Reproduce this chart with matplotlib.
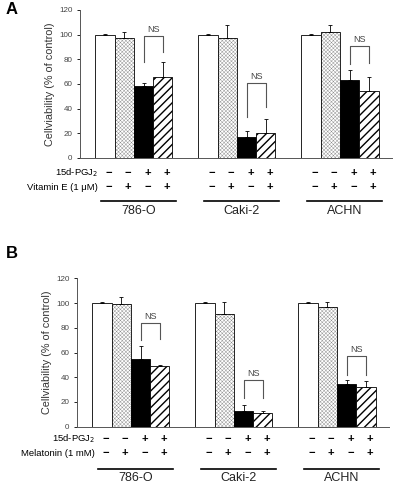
import matplotlib
matplotlib.use("Agg")
import matplotlib.pyplot as plt
import matplotlib.transforms as mtransforms
import numpy as np

plt.rcParams['font.family'] = ['Liberation Sans', 'DejaVu Sans']

cell_lines = ["786-O", "Caki-2", "ACHN"]
treat_pgj = ["−", "−", "+", "+"]
treat_other = ["−", "+", "−", "+"]

# Panel A: Vitamin E
a_vals = {"786-O": [100, 97, 58, 66], "Caki-2": [100, 97, 17, 20], "ACHN": [100, 102, 63, 54]}
a_errs = {"786-O": [0.5, 5, 3, 12], "Caki-2": [0.5, 11, 5, 12], "ACHN": [0.5, 6, 8, 12]}
a_ns = {"786-O": (99, 78, 86), "Caki-2": (61, 33, 41), "ACHN": (91, 76, 77)}

# Panel B: Melatonin
b_vals = {"786-O": [100, 99, 55, 49], "Caki-2": [100, 91, 13, 11], "ACHN": [100, 96.5, 34.5, 32]}
b_errs = {"786-O": [0.5, 6, 10, 1], "Caki-2": [0.5, 10, 4.5, 2], "ACHN": [0.5, 4, 3.5, 5]}
b_ns = {"786-O": (84, 70, 71), "Caki-2": (38, 23, 23), "ACHN": (57, 42, 42)}

yticks = [0, 20, 40, 60, 80, 100, 120]
ylabel = "Cellviability (% of control)"

fills = ["white", "white", "black", "white"]

W, H = 398, 488
fig = plt.figure(figsize=(W / 100, H / 100), dpi=100)


def panel(left_px, right_px, y0_px, y120_px, vals, errs, ns, other_label, letter, letter_y, rows):
    ax = fig.add_axes([left_px / W, (H - y0_px) / H, (right_px - left_px) / W, (y0_px - y120_px) / H])
    axh = y0_px - y120_px
    trans = mtransforms.blended_transform_factory(ax.transData, ax.transAxes)
    for g, cl in enumerate(cell_lines):
        base = 1.3 + g * 5.35
        xs = base + np.arange(4)
        v = vals[cl]
        # plain bars
        ax.bar(xs[[0, 2]], [v[0], v[2]], width=1.0, color=[fills[0], fills[2]],
               edgecolor="black", linewidth=0.6, zorder=2)
        # fine dotted bar
        with plt.rc_context({'hatch.linewidth': 0.3}):
            ax.bar(xs[1], v[1], width=1.0, color="white", edgecolor="#8a8a8a",
                   linewidth=0, hatch="xxxxxxxxx", zorder=2)
        ax.bar(xs[1], v[1], width=1.0, fill=False, edgecolor="black", linewidth=0.6, zorder=2.1)
        # diagonal hatched bar
        with plt.rc_context({'hatch.linewidth': 1.0}):
            ax.bar(xs[3], v[3], width=1.0, color="white", edgecolor="black",
                   linewidth=0.6, hatch="////", zorder=2)
        ax.errorbar(xs, v, yerr=[np.zeros(4), errs[cl]], fmt="none",
                    ecolor="black", elinewidth=0.6, capsize=1.5, capthick=0.6, zorder=3)
        top, l_end, r_end = ns[cl]
        ax.plot([xs[2], xs[2], xs[3], xs[3]], [l_end, top, top, r_end], color="#555555",
                lw=0.8, zorder=3, clip_on=False)
        ax.text((xs[2] + xs[3]) / 2, top + 1.5, "NS", ha="center", va="bottom",
                fontsize=6.5, color="#444444")
        for i in range(4):
            ax.text(xs[i] + 0.2, -rows[0] / axh, treat_pgj[i], transform=trans, ha="center",
                    va="center", fontsize=8, fontweight="bold")
            ax.text(xs[i] + 0.2, -rows[1] / axh, treat_other[i], transform=trans, ha="center",
                    va="center", fontsize=8, fontweight="bold")
        ax.plot([xs[0] - 0.2, xs[3] + 0.7], [-rows[2] / axh] * 2, transform=trans,
                color="black", lw=1.2, clip_on=False)
        ax.text((xs[0] + xs[3]) / 2 + 0.25, -rows[3] / axh, cl, transform=trans,
                ha="center", va="center", fontsize=9, color="#222222")
    x_lab = 1.3 + 0.2 - 0.55
    ax.text(x_lab, -rows[0] / axh, "15d-PGJ$_2$", transform=trans, ha="right",
            va="center", fontsize=6.8)
    ax.text(x_lab, -rows[1] / axh, other_label, transform=trans, ha="right",
            va="center", fontsize=6.8)
    ax.set_xlim(0, 16.2 * (right_px - left_px) / 312)
    ax.set_ylim(0, 120)
    ax.set_yticks(yticks)
    ax.tick_params(axis="y", labelsize=5.8, labelcolor="#444444", length=2.5, width=0.6, pad=3)
    ax.set_xticks([])
    ax.spines["top"].set_visible(False)
    ax.spines["right"].set_visible(False)
    ax.spines["left"].set_color("#555555")
    ax.spines["bottom"].set_color("#555555")
    ax.spines["left"].set_linewidth(0.7)
    ax.spines["bottom"].set_linewidth(0.7)
    ax.set_ylabel(ylabel, fontsize=7.8, color="#333333", labelpad=3)
    fig.text(6 / W, 1 - letter_y / H, letter, fontsize=12, fontweight="bold", ha="left", va="center")
    return ax


panel(80, 392, 158, 10, a_vals, a_errs, a_ns, "Vitamin E (1 μM)", "A", 9, (15, 29, 43, 53))
panel(77, 389, 426.7, 278.3, b_vals, b_errs, b_ns, "Melatonin (1 mM)", "B", 253, (12.5, 26.5, 42.5, 51))

fig.savefig("out.png", dpi=100)
